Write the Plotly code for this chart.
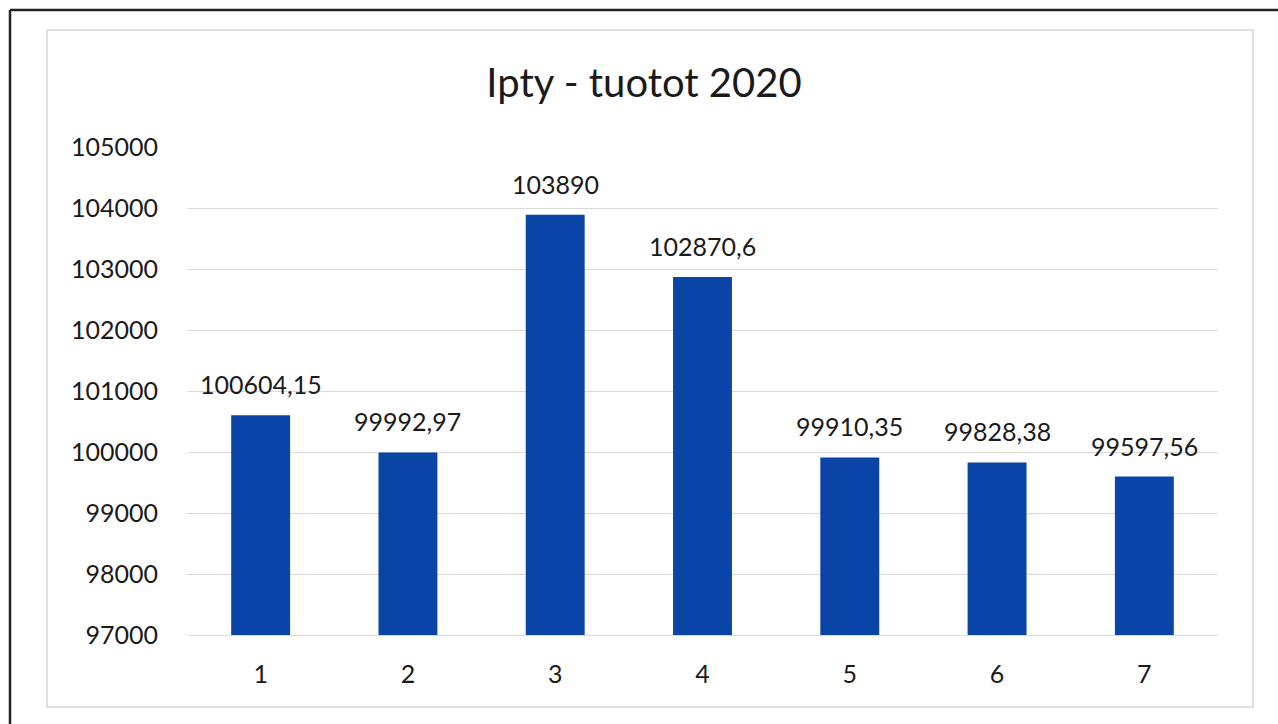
import plotly.graph_objects as go

categories = ["1", "2", "3", "4", "5", "6", "7"]
values = [100604.15, 99992.97, 103890, 102870.6, 99910.35, 99828.38, 99597.56]
value_labels = ["100604,15", "99992,97", "103890", "102870,6", "99910,35", "99828,38", "99597,56"]
y_ticks = [97000, 98000, 99000, 100000, 101000, 102000, 103000, 104000, 105000]
title_text = "Ipty - tuotot 2020"

FONT = "Lato, 'Open Sans', sans-serif"
TXT = "#1a1a1a"

W, H = 1278, 724
L, R, T, B = 187, 60, 147, 89
PW, PH = W - L - R, H - T - B

def px(x):
    return (x - L) / PW

def py(y):
    return (H - B - y) / PH

fig = go.Figure()
fig.add_trace(go.Bar(
    x=categories, y=values, marker=dict(color="#0A45A6", line=dict(width=0)),
    showlegend=False, hoverinfo="skip"
))

# on a category axis, annotation x is the category index
for i, (v, t) in enumerate(zip(values, value_labels)):
    fig.add_annotation(x=i, y=v, text=t, showarrow=False, yanchor="bottom",
                       yshift=14, font=dict(family=FONT, size=25, color=TXT))

fig.update_layout(
    width=W, height=H,
    margin=dict(l=L, r=R, t=T, b=B, autoexpand=False),
    paper_bgcolor="white", plot_bgcolor="white",
    bargap=0.6,
    title=dict(text=title_text, x=px(644), xanchor="center", y=1 - 83 / H, yanchor="middle",
               xref="paper", yref="container",
               font=dict(family=FONT, size=40, color=TXT)),
    xaxis=dict(type="category", range=[-0.5, 6.5], tickfont=dict(family=FONT, size=25, color=TXT),
               showgrid=False, showline=True, linecolor="#d9d9d9", ticks="", ticklabelstandoff=17),
    yaxis=dict(range=[97000, 105000], tickvals=y_ticks, ticktext=[str(t) for t in y_ticks],
               tickfont=dict(family=FONT, size=25, color=TXT), showgrid=True,
               gridcolor="#d9d9d9", gridwidth=1, zeroline=False, showline=False,
               ticks="", ticklabelstandoff=28),
    shapes=[
        dict(type="line", xref="paper", yref="paper", x0=px(10), x1=px(10),
             y0=py(H + 5), y1=py(10), line=dict(color="#222", width=2.5)),
        dict(type="line", xref="paper", yref="paper", x0=px(10), x1=px(W + 5),
             y0=py(10), y1=py(10), line=dict(color="#222", width=2.5)),
        dict(type="rect", xref="paper", yref="paper", x0=px(47), x1=px(1253),
             y0=py(707), y1=py(30), line=dict(color="#d6d6d6", width=1.5)),
    ],
)

fig.write_html("out.html", config={"displayModeBar": False},
               post_script="document.body.style.margin='0';document.body.style.overflow='hidden';")
